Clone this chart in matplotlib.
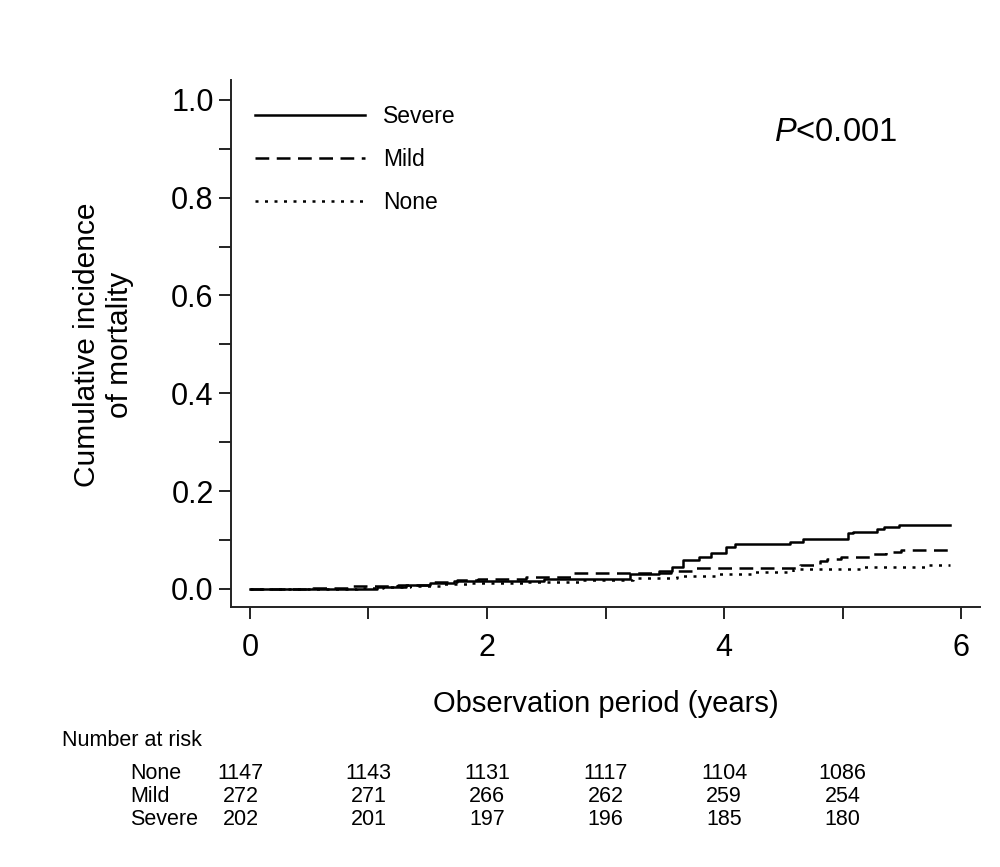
import numpy as np
import matplotlib.pyplot as plt
from matplotlib.ticker import MultipleLocator
import matplotlib.transforms as mtransforms

plt.rcParams['font.family'] = ['Liberation Sans', 'DejaVu Sans']
plt.rcParams['mathtext.fontset'] = 'custom'
plt.rcParams['mathtext.rm'] = 'Liberation Sans'
plt.rcParams['mathtext.it'] = 'Liberation Sans:italic'

# cumulative incidence (years, fraction)
severe_t = [0, 1.07, 1.32, 1.52, 1.72, 2.48, 3.21, 3.45, 3.56, 3.65, 3.79, 3.89,
            4.02, 4.09, 4.56, 4.67, 5.05, 5.09, 5.29, 5.35, 5.48, 5.91]
severe_v = [0, 0.004, 0.007, 0.012, 0.015, 0.020, 0.031, 0.036, 0.045, 0.059, 0.066,
            0.074, 0.085, 0.092, 0.096, 0.101, 0.114, 0.117, 0.122, 0.126, 0.131, 0.131]
mild_t = [0, 0.53, 0.87, 1.25, 1.55, 1.75, 1.92, 2.33, 2.71, 3.55, 3.74, 4.64,
          4.81, 4.87, 4.99, 5.26, 5.37, 5.49, 5.91]
mild_v = [0, 0.002, 0.005, 0.008, 0.014, 0.018, 0.020, 0.025, 0.032, 0.037, 0.043,
          0.048, 0.056, 0.061, 0.066, 0.071, 0.076, 0.080, 0.081]
none_t = [0, 0.9, 1.12, 1.35, 1.6, 1.85, 2.3, 2.8, 3.23, 3.6, 3.95, 4.25, 4.58,
          5.17, 5.71, 5.91]
none_v = [0, 0.001, 0.003, 0.006, 0.009, 0.012, 0.014, 0.018, 0.023, 0.027, 0.031,
          0.035, 0.040, 0.044, 0.048, 0.048]

risk_years = [0, 1, 2, 3, 4, 5]
risk_groups = ['None', 'Mild', 'Severe']
risk_none = [1147, 1143, 1131, 1117, 1104, 1086]
risk_mild = [272, 271, 266, 262, 259, 254]
risk_severe = [202, 201, 197, 196, 185, 180]

fig = plt.figure(figsize=(10, 8.67), dpi=100)
ax = fig.add_axes([0.231, 0.300, 0.749, 0.608])

lw = 1.8
ax.step(severe_t, severe_v, where='post', color='black', lw=lw, label='Severe')
ax.step(mild_t, mild_v, where='post', color='black', lw=lw, dashes=(5.5, 3), label='Mild')
ax.step(none_t, none_v, where='post', color='black', lw=lw, dashes=(1.2, 2.6), label='None')

ax.set_xlim(-0.16, 6.16)
ax.set_ylim(-0.037, 1.041)
ax.xaxis.set_major_locator(MultipleLocator(2))
ax.xaxis.set_minor_locator(MultipleLocator(1))
ax.yaxis.set_major_locator(MultipleLocator(0.2))
ax.yaxis.set_minor_locator(MultipleLocator(0.1))
ax.yaxis.set_major_formatter(plt.FuncFormatter(lambda v, p: f'{v:.1f}'))

for s in ['top', 'right']:
    ax.spines[s].set_visible(False)
for s in ['left', 'bottom']:
    ax.spines[s].set_linewidth(1.4)
    ax.spines[s].set_color('#222222')

ax.tick_params(axis='both', which='both', direction='out', length=8.5, width=1.4,
               color='#222222', labelsize=22)
ax.tick_params(axis='x', which='both', pad=10)
ax.tick_params(axis='y', which='both', pad=4)

ax.set_xlabel('Observation period (years)', fontsize=21)
ax.xaxis.set_label_coords(0.5, -0.157)
ax.set_ylabel('Cumulative incidence\nof mortality', fontsize=21.5, multialignment='center')
ax.yaxis.set_label_coords(-0.13, 0.497)

ax.legend(loc='upper left', bbox_to_anchor=(0.032, 0.952), frameon=False, fontsize=16.5,
          handlelength=4.8, handletextpad=0.8, labelspacing=0.88, borderpad=0,
          borderaxespad=0)

ax.text(0.725, 0.90, r'$\it{P}$<0.001', transform=ax.transAxes, fontsize=23.5,
        ha='left', va='center')

# number at risk table
trans = mtransforms.blended_transform_factory(ax.transData, ax.transAxes)
ax.text(-0.2256, -0.254, 'Number at risk', transform=ax.transAxes, fontsize=15.5,
        ha='left', va='center', clip_on=False)
rows = [risk_none, risk_mild, risk_severe]
row_y = [-0.316, -0.359, -0.403]
for name, vals, y in zip(risk_groups, rows, row_y):
    ax.text(-0.135, y, name, transform=ax.transAxes, fontsize=15.5, ha='left',
            va='center', clip_on=False)
    for xv, n in zip(risk_years, vals):
        ax.text(xv - 0.08 if xv == 0 else xv, y, str(n), transform=trans, fontsize=15.5,
                ha='center', va='center', clip_on=False)

fig.savefig('out.png', dpi=100)
